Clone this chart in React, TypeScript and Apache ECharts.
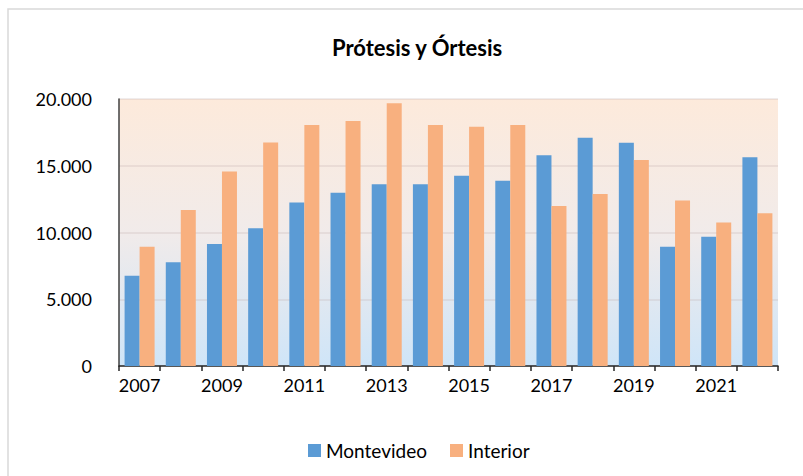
import React, { useEffect, useRef } from "react";
import * as echarts from "echarts";

const years = ["2007","2008","2009","2010","2011","2012","2013","2014","2015","2016","2017","2018","2019","2020","2021","2022"];
const montevideo = [6760, 7770, 9140, 10310, 12240, 12980, 13610, 13610, 14260, 13880, 15780, 17100, 16730, 8940, 9690, 15630];
const interior = [8940, 11690, 14560, 16750, 18050, 18350, 19680, 18050, 17930, 18050, 11990, 12880, 15430, 12390, 10740, 11440];
const titleText = "Prótesis y Órtesis";
const seriesNames = ["Montevideo", "Interior"];

const fmt = (v: number) => String(v).replace(/\B(?=(\d{3})+(?!\d))/g, ".");

export default function App() {
  const ref = useRef<HTMLDivElement>(null);
  useEffect(() => {
    if (!ref.current) return;
    const chart = echarts.init(ref.current, null, { renderer: "svg" });
    const font = "Lato, 'Noto Sans', sans-serif";
    chart.setOption({
      animation: false,
      backgroundColor: "#ffffff",
      textStyle: { fontFamily: font },
      graphic: [
        {
          type: "rect",
          shape: { x: 8, y: 9, width: 900, height: 600 },
          style: { fill: "none", stroke: "#d9d9d9", lineWidth: 1.5 },
          silent: true,
        },
      ],
      title: {
        text: titleText,
        left: 327,
        top: 31,
        textStyle: { fontFamily: font, fontWeight: "bold", fontSize: 22, color: "#000000" },
      },
      legend: {
        left: 303,
        top: 436,
        itemWidth: 13,
        itemHeight: 13,
        itemGap: 23,
        icon: "rect",
        textStyle: { fontFamily: font, fontSize: 19, color: "#000000" },
        data: seriesNames,
      },
      grid: {
        left: 119,
        top: 99,
        right: 25,
        bottom: 110,
        show: true,
        borderWidth: 0,
        backgroundColor: new echarts.graphic.LinearGradient(0, 0, 0, 1, [
          { offset: 0, color: "#fdeadb" },
          { offset: 0.5, color: "#f1ebea" },
          { offset: 1, color: "#cfe5f8" },
        ]),
      },
      xAxis: {
        type: "category",
        data: years,
        axisLine: { show: true, lineStyle: { color: "#262626", width: 1.5 } },
        axisTick: { show: true, interval: 0, length: 5, lineStyle: { color: "#262626", width: 1.5 } },
        axisLabel: { interval: 1, margin: 10, fontFamily: font, fontSize: 18, color: "#000000" },
      },
      yAxis: {
        type: "value",
        min: 0,
        max: 20000,
        interval: 5000,
        axisLine: { show: true, lineStyle: { color: "#404040", width: 1.5 } },
        axisTick: { show: false },
        axisLabel: { margin: 27, fontFamily: font, fontSize: 18, color: "#000000", formatter: (v: number) => fmt(v) },
        splitLine: { show: true, lineStyle: { color: "rgba(190,170,170,0.3)", width: 1.5 } },
      },
      series: [
        {
          name: seriesNames[0],
          type: "bar",
          data: montevideo,
          barWidth: 15,
          barGap: "0%",
          itemStyle: { color: "#5b9bd5" },
        },
        {
          name: seriesNames[1],
          type: "bar",
          data: interior,
          barWidth: 15,
          barGap: "0%",
          itemStyle: { color: "#f8b07f" },
        },
      ],
    });
    return () => chart.dispose();
  }, []);
  return (
    <div
      ref={ref}
      style={{ position: "fixed", left: 0, top: 0, width: 803, height: 476 }}
    />
  );
}
